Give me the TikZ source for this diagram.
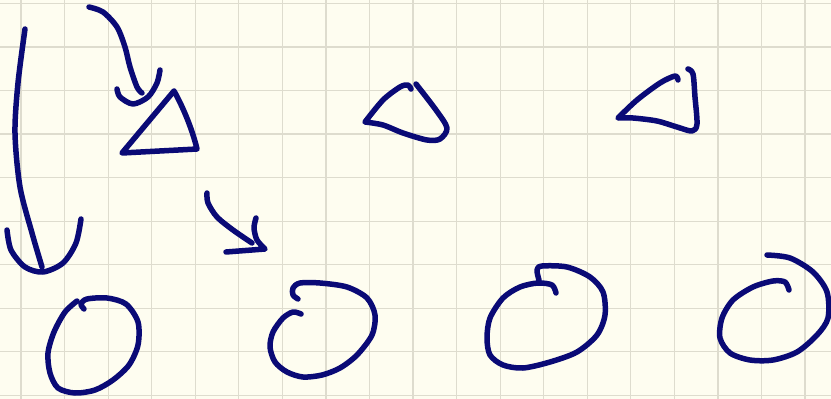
\documentclass[tikz,border=0pt]{standalone}
\usepackage{tikz}
\usetikzlibrary{calc}
\definecolor{paperC}{RGB}{254,253,240}
\definecolor{gridC}{RGB}{222,220,206}
\definecolor{inkC}{RGB}{10,10,118}
\tikzset{
  ink/.style      = {draw=inkC, line width=5.5pt, line cap=round,
                     line join=round},
  gridline/.style = {draw=gridC, line width=1.2pt}
}

\begin{document}
\begin{tikzpicture}[x=1pt, y=-1pt]

  %% ── Paper ─────────────────────────────────────────────────────
  \fill[paperC] (0,0) rectangle (831,399);
  \useasboundingbox (0,0) rectangle (831,399);
  \foreach \gx in {0,...,18}
    \draw[gridline] ({21+43.56*\gx},0) -- ({21+43.56*\gx},399);
  \foreach \gy in {0,...,9}
    \draw[gridline] (0,{3.4+43.56*\gy}) -- (831,{3.4+43.56*\gy});

  %% ── Long arrow (left) ─────────────────────────────────────────
  \draw[ink] plot[smooth] coordinates
    {(25,29) (18,83) (15,133) (20,187) (32,233) (42,267)};
  \draw[ink] plot[smooth] coordinates
    {(7,230) (11,250) (25,267) (43,272) (63,263) (76,243) (81,219)};

  %% ── Arrow into first triangle ─────────────────────────────────
  \draw[ink] plot[smooth] coordinates
    {(89,7) (103,12) (117,27) (125,47) (130,67) (137,87) (142,93)};
  \draw[ink] plot[smooth] coordinates
    {(117,89) (120,97) (133,104) (148,97) (157,83) (160,70)};

  %% ── Triangles ─────────────────────────────────────────────────
  \draw[ink] (174,91) -- (122,153) -- (197,149)
    .. controls (192,128) and (182,105) .. (174,91);
  \draw[ink] plot[smooth] coordinates
    {(411,89) (408,85) (400,87) (383,100) (365,122)}
    -- plot[smooth] coordinates
    {(365,122) (383,125) (403,133) (427,140) (440,139) (447,128)
     (436,110) (416,84)};
  \draw[ink] plot[smooth] coordinates
    {(678,80) (675,76) (660,83) (637,100) (618,118)}
    -- plot[smooth] coordinates
    {(618,118) (633,118) (657,121) (677,127) (692,131) (697,124)
     (695,97) (693,74) (688,69)};

  %% ── Small arrow (middle) ──────────────────────────────────────
  \draw[ink] plot[smooth] coordinates
    {(207,193) (208,203) (217,217) (233,230) (252,243)};
  \draw[ink] plot[smooth] coordinates
    {(256,218) (254,228) (257,240) (265,249)} -- (226,252);

  %% ── Circles ───────────────────────────────────────────────────
  \draw[ink] plot[smooth] coordinates
    {(84,309) (81,304) (87,299) (107,298) (126,304) (138,322) (138,345)
     (129,365) (113,380) (95,390) (75,393) (58,388) (50,373) (48,353)
     (54,332) (65,312) (77,301)};
  \draw[ink] plot[smooth] coordinates
    {(301,314) (293,312) (283,318) (273,332) (270,347) (275,362)
     (287,372) (303,377) (322,375) (340,368) (357,355) (372,335)
     (375,315) (367,298) (347,287) (320,283) (300,283) (293,288)
     (293,295) (298,299)};
  \draw[ink] plot[smooth] coordinates
    {(539,280) (537,270) (542,266) (567,267) (590,277) (603,292)
     (605,315) (597,335) (577,352) (550,362) (523,368) (503,365)
     (490,355) (487,338) (490,318) (503,298) (520,287) (538,283)
     (552,285) (556,293)};
  \draw[ink] plot[smooth] coordinates
    {(767,255) (790,258) (813,272) (827,292) (828,318) (817,335)
     (797,352) (773,360) (750,360) (730,353) (720,338) (722,318)
     (733,300) (753,287) (773,281) (785,282) (789,290)};

\end{tikzpicture}
\end{document}
